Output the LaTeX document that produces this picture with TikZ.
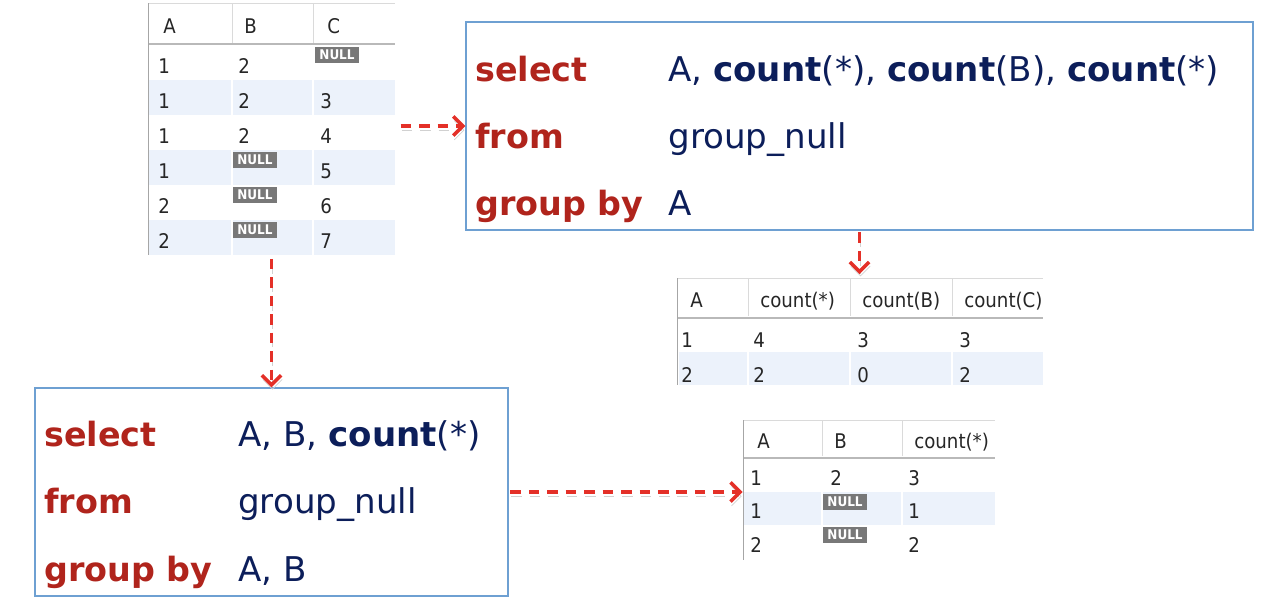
\documentclass[tikz,border=0pt]{standalone}
\usepackage{fontspec}
\setmainfont{DejaVu Sans}
\newfontfamily\tabfont{DejaVu Sans Condensed}
\usepackage{tikz}
\usetikzlibrary{arrows.meta,positioning,fit}
\definecolor{sqlred}{RGB}{176,36,28}
\definecolor{sqlnavy}{RGB}{12,30,90}
\definecolor{boxblue}{RGB}{110,160,210}
\definecolor{rowblue}{RGB}{236,242,251}
\definecolor{gridgray}{RGB}{218,218,218}
\definecolor{nullgray}{RGB}{120,120,120}
\definecolor{flowred}{RGB}{228,48,40}
\tikzset{
  qbox/.style={draw=boxblue,line width=0.7pt,inner sep=0pt},
  kw/.style={anchor=base west,inner sep=0pt,text=sqlred,font=\fontsize{19}{19}\selectfont\bfseries},
  val/.style={anchor=base west,inner sep=0pt,text=sqlnavy,font=\fontsize{19.4}{19.4}\selectfont},
  cell/.style={anchor=base west,inner sep=0pt,text=black!85,font=\tabfont\fontsize{11.5}{11.5}\selectfont},
  nullbadge/.style={fill=nullgray,text=white,inner sep=0pt,minimum width=0.88cm,minimum height=0.32cm,font=\tabfont\bfseries\fontsize{7.6}{7.6}\selectfont},
  tabbox/.style={inner sep=0pt},
  flow/.style={draw=flowred,line width=2pt,dash pattern=on 6pt off 4.5pt,
    -{Straight Barb[length=5.5pt,width=11pt]},
    preaction={draw=black!18,dash pattern=on 6pt off 4.5pt,transform canvas={shift={(0.6pt,-2.4pt)}}}}
}
\begin{document}
\begin{tikzpicture}[x=0.02cm,y=-0.02cm]
  \useasboundingbox (0,0) rectangle (1264,606);
  % Source table group_null
  \foreach \i in {2,4,6} {
    \fill[rowblue] (149,{10+35*\i}) rectangle (231,{45+35*\i});
    \fill[rowblue] (233,{10+35*\i}) rectangle (312,{45+35*\i});
    \fill[rowblue] (314,{10+35*\i}) rectangle (395,{45+35*\i});
  }
  \draw[gridgray] (148,3) -- (395,3);
  \draw[gridgray] (232,3) -- (232,43) (313,3) -- (313,43);
  \draw[gray!55,line width=1.2pt] (148,44) -- (395,44);
  \draw[gray!70] (148,3) -- (148,255);
  \node[cell] (sh-a) at (163,33) {A};
  \node[cell] (sh-b) at (244,33) {B};
  \node[cell] (sh-c) at (327,33) {C};
  \foreach \v [count=\i] in {1,1,1,1,2,2}
    \node[cell] (sa\i) at (158,{38+35*\i}) {\v};
  \foreach \v [count=\i] in {2,2,2}
    \node[cell] (sb\i) at (238,{38+35*\i}) {\v};
  \foreach \v [count=\i from 2] in {3,4,5,6,7}
    \node[cell] (sc\i) at (320,{38+35*\i}) {\v};
  \node[nullbadge] (sc1) at (337,55) {NULL};
  \node[nullbadge] (sb4) at (255,160) {NULL};
  \node[nullbadge] (sb5) at (255,195) {NULL};
  \node[nullbadge] (sb6) at (255,230) {NULL};
  \node[tabbox,fit={(148,3) (395,255)}] (src) {};

  % Query grouped by A
  \node[qbox,fit={(466,22) (1253,230)}] (qa) {};
  \node[kw] (qa-sel) at (475,81) {select};
  \node[kw] (qa-from) at (475,148) {from};
  \node[kw] (qa-grp) at (475,215) {group by};
  \node[val] (qa-cols) at (668,81) {A, \textbf{count}(*), \textbf{count}(B), \textbf{count}(*)};
  \node[val] (qa-tab) at (668,148) {group\_null};
  \node[val] (qa-key) at (668,215) {A};

  % Result of group by A
  \fill[rowblue] (679,352) rectangle (747,385);
  \fill[rowblue] (749,352) rectangle (849,385);
  \fill[rowblue] (851,352) rectangle (951,385);
  \fill[rowblue] (953,352) rectangle (1043,385);
  \draw[gridgray] (677,278) -- (1043,278);
  \draw[gridgray] (748,278) -- (748,316) (850,278) -- (850,316) (952,278) -- (952,316);
  \draw[gray!55,line width=1.2pt] (677,318) -- (1043,318);
  \draw[gray!70] (677,278) -- (677,385);
  \node[cell] (ah-a) at (690,307) {A};
  \node[cell] (ah-all) at (760,307) {count(*)};
  \node[cell] (ah-b) at (862,307) {count(B)};
  \node[cell] (ah-c) at (964,307) {count(C)};
  \node[cell] (a11) at (681,347) {1};
  \node[cell] (a12) at (753,347) {4};
  \node[cell] (a13) at (857,347) {3};
  \node[cell] (a14) at (959,347) {3};
  \node[cell] (a21) at (681,382) {2};
  \node[cell] (a22) at (753,382) {2};
  \node[cell] (a23) at (857,382) {0};
  \node[cell] (a24) at (959,382) {2};
  \node[tabbox,fit={(677,278) (1043,385)}] (resa) {};

  % Query grouped by A, B
  \node[qbox,fit={(35,388) (508,596)}] (qb) {};
  \node[kw] (qb-sel) at (44,446) {select};
  \node[kw] (qb-from) at (44,513) {from};
  \node[kw] (qb-grp) at (44,581) {group by};
  \node[val] (qb-cols) at (238,446) {A, B, \textbf{count}(*)};
  \node[val] (qb-tab) at (238,513) {group\_null};
  \node[val] (qb-key) at (238,581) {A, B};

  % Result of group by A, B
  \fill[rowblue] (744,492) rectangle (821,525);
  \fill[rowblue] (823,492) rectangle (901,525);
  \fill[rowblue] (903,492) rectangle (995,525);
  \draw[gridgray] (743,420) -- (995,420);
  \draw[gridgray] (822,420) -- (822,456) (902,420) -- (902,456);
  \draw[gray!55,line width=1.2pt] (743,458) -- (995,458);
  \draw[gray!70] (743,420) -- (743,560);
  \node[cell] (bh-a) at (757,448) {A};
  \node[cell] (bh-b) at (834,448) {B};
  \node[cell] (bh-all) at (914,448) {count(*)};
  \node[cell] (b11) at (750,485) {1};
  \node[cell] (b12) at (830,485) {2};
  \node[cell] (b13) at (908,485) {3};
  \node[cell] (b21) at (750,518) {1};
  \node[nullbadge] (b22) at (845,502) {NULL};
  \node[cell] (b23) at (908,518) {1};
  \node[cell] (b31) at (750,552) {2};
  \node[nullbadge] (b32) at (845,535) {NULL};
  \node[cell] (b33) at (908,552) {2};
  \node[tabbox,fit={(743,420) (995,560)}] (resb) {};

  % Flow arrows
  \draw[flow,shorten <=3pt] (src.east |- qa.west) -- (qa.west);
  \draw[flow,shorten <=2pt] (src.south) -- (src.south |- qb.north);
  \draw[flow,shorten <=1pt,shorten >=2pt] (qa.south) -- (qa.south |- resa.north);
  \draw[flow,shorten <=1pt] (qb.east) -- (qb.east -| resb.west);
\end{tikzpicture}
\end{document}
